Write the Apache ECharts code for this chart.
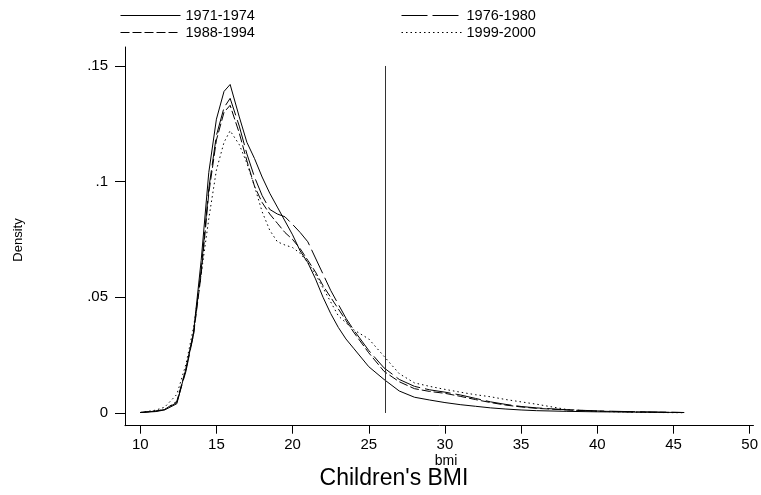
<!DOCTYPE html>
<html>
<head>
<meta charset="utf-8">
<script src="https://cdn.jsdelivr.net/npm/echarts@6/dist/echarts.min.js"></script>
<style>
html,body{margin:0;padding:0;background:#fff;}
#chart{width:761px;height:495px;}
</style>
</head>
<body>
<div id="chart"></div>
<script>
// ---- data ----
const bmi = [10, 11, 11.6, 12.4, 13, 13.5, 14, 14.5, 15, 15.5, 15.9, 16.5, 17, 17.5, 18, 18.5, 19, 19.5, 20, 20.5, 21, 21.5, 22, 22.5, 23, 23.5, 24, 25, 26, 27, 28, 29, 30, 31, 32, 33, 34, 35, 36, 38, 40, 42, 44, 45.7];
const d1971 = [0.0002, 0.0006, 0.0013, 0.004, 0.019, 0.035, 0.066, 0.104, 0.127, 0.139, 0.142, 0.128, 0.117, 0.110, 0.102, 0.095, 0.089, 0.083, 0.077, 0.070, 0.065, 0.058, 0.050, 0.043, 0.037, 0.032, 0.028, 0.020, 0.0145, 0.0095, 0.0068, 0.0056, 0.0045, 0.0036, 0.0029, 0.0022, 0.0017, 0.0013, 0.0010, 0.0007, 0.0005, 0.0004, 0.0003, 0.0002];
const d1976 = [0.0002, 0.0008, 0.0015, 0.0045, 0.018, 0.034, 0.062, 0.097, 0.120, 0.132, 0.136, 0.124, 0.112, 0.102, 0.094, 0.088, 0.086, 0.0848, 0.0815, 0.078, 0.074, 0.067, 0.060, 0.053, 0.047, 0.041, 0.036, 0.027, 0.0195, 0.0145, 0.0115, 0.0100, 0.0090, 0.0078, 0.0063, 0.0048, 0.0037, 0.0028, 0.0022, 0.0014, 0.0009, 0.0006, 0.0004, 0.0002];
const d1988 = [0.0002, 0.0008, 0.0015, 0.005, 0.019, 0.034, 0.060, 0.095, 0.118, 0.130, 0.133, 0.121, 0.109, 0.098, 0.091, 0.086, 0.082, 0.078, 0.075, 0.071, 0.066, 0.061, 0.055, 0.050, 0.045, 0.040, 0.035, 0.026, 0.018, 0.0135, 0.0105, 0.0093, 0.0085, 0.0072, 0.0058, 0.0045, 0.0034, 0.0026, 0.0020, 0.0013, 0.0008, 0.0005, 0.0003, 0.0002];
const d1999 = [0.0002, 0.0012, 0.0025, 0.008, 0.021, 0.037, 0.060, 0.084, 0.105, 0.117, 0.122, 0.116, 0.108, 0.098, 0.087, 0.079, 0.074, 0.0726, 0.0715, 0.069, 0.065, 0.060, 0.054, 0.048, 0.042, 0.039, 0.036, 0.032, 0.0245, 0.017, 0.013, 0.0115, 0.0102, 0.0090, 0.0079, 0.0070, 0.0058, 0.0048, 0.0038, 0.0015, 0.0007, 0.0004, 0.0002, 0.0001];
const seriesNames = ['1971-1974', '1976-1980', '1988-1994', '1999-2000'];
const xTicks = [10, 15, 20, 25, 30, 35, 40, 45, 50];
const yTicks = [0, 0.05, 0.1, 0.15];
const yTickLabels = ['0', '.05', '.1', '.15'];
const cutoff = 26.1;
const cutoffTop = 0.15;

// ---- chart ----
const FONT = 'Liberation Sans, Arial, sans-serif';
const dashTypes = ['solid', [26, 5], [9, 3], [1.5, 3]];
const allData = [d1971, d1976, d1988, d1999];

const chart = echarts.init(document.getElementById('chart'), null, {renderer: 'canvas'});

const series = seriesNames.map((name, i) => ({
  name: name,
  type: 'line',
  data: bmi.map((x, k) => [x, allData[i][k]]),
  symbol: 'none',
  showSymbol: false,
  smooth: false,
  lineStyle: {color: '#000', width: 1, type: dashTypes[i]},
  itemStyle: {color: '#000'},
  silent: true,
  z: 3
}));
series.push({
  name: 'cutoff',
  type: 'line',
  data: [],
  markLine: {
    silent: true,
    symbol: 'none',
    label: {show: false},
    lineStyle: {color: '#333', width: 1, type: 'solid'},
    data: [[{coord: [cutoff, 0]}, {coord: [cutoff, cutoffTop]}]]
  }
});

const legendPos = [[120, 8], [401, 8], [120, 25], [401, 25]];
const legends = seriesNames.map((name, i) => ({
  data: [{name: name, lineStyle: {type: dashTypes[i], width: 1, color: '#000'}, itemStyle: {opacity: 0}}],
  left: legendPos[i][0],
  top: legendPos[i][1],
  padding: 0,
  itemWidth: 60,
  itemHeight: 14,
  selectedMode: false,
  textStyle: {fontFamily: FONT, fontSize: 14.5, color: '#000'}
}));

chart.setOption({
  animation: false,
  backgroundColor: '#fff',
  legend: legends,
  grid: {left: 125, right: 5, top: 47, bottom: 69.3, containLabel: false},
  xAxis: {
    type: 'value',
    min: 9,
    max: 50.25,
    splitLine: {show: false},
    axisLine: {show: true, onZero: false, lineStyle: {color: '#000', width: 1}},
    axisTick: {show: true, length: 8, customValues: xTicks, lineStyle: {color: '#000'}},
    axisLabel: {customValues: xTicks, margin: 12, fontFamily: FONT, fontSize: 15, color: '#000',
      formatter: v => String(v)}
  },
  yAxis: {
    type: 'value',
    position: 'left',
    min: -0.0055,
    max: 0.1582,
    splitLine: {show: false},
    axisLine: {show: true, onZero: false, lineStyle: {color: '#000', width: 1}},
    axisTick: {show: true, length: 10, customValues: yTicks, lineStyle: {color: '#000'}},
    axisLabel: {customValues: yTicks, margin: 17, fontFamily: FONT, fontSize: 15, color: '#000',
      formatter: v => {
        const k = yTicks.findIndex(t => Math.abs(t - v) < 1e-9);
        return k >= 0 ? yTickLabels[k] : '';
      }}
  },
  graphic: [
    {type: 'text', x: 18, y: 240, rotation: Math.PI / 2, style: {text: 'Density', font: '13px ' + FONT, fill: '#000', textAlign: 'center', textVerticalAlign: 'middle'}},
    {type: 'text', x: 446, y: 461.5, style: {text: 'bmi', font: '14px ' + FONT, fill: '#000', textAlign: 'center', textVerticalAlign: 'middle'}},
    {type: 'text', x: 394, y: 479, style: {text: "Children's BMI", font: '23px ' + FONT, fill: '#000', textAlign: 'center', textVerticalAlign: 'middle'}}
  ],
  series: series
});
</script>
</body>
</html>
